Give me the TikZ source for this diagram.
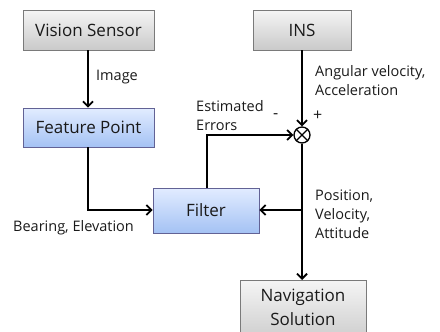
\documentclass[tikz,border=0pt]{standalone}
\usepackage{fontspec}
\setmainfont{Open Sans}
\usetikzlibrary{arrows.meta,positioning}
\definecolor{txt}{HTML}{1A1A1A}
\definecolor{bordergray}{HTML}{7A7A7A}
\tikzset{
  graybox/.style={draw=bordergray, line width=0.9pt, top color=gray!8, bottom color=gray!42, inner sep=0pt, text=txt, font=\fontsize{17}{24}\selectfont, align=center},
  bluebox/.style={draw=bordergray!80!blue, line width=0.9pt, top color={rgb,255:red,226;green,236;blue,255}, bottom color={rgb,255:red,164;green,194;blue,244}, inner sep=0pt, text=txt, font=\fontsize{17}{24}\selectfont, align=center},
  lbl/.style={text=txt, font=\fontsize{14.5}{19}\selectfont, align=left, inner sep=0pt, anchor=west},
  conn/.style={line width=2pt, -{Straight Barb[length=5pt,width=10pt,line width=1.8pt]}},
  plain/.style={line width=2pt},
  sumnode/.style={circle, draw, line width=1.3pt, minimum size=16pt, inner sep=0pt}
}
\begin{document}
\begin{tikzpicture}[x=1pt,y=-1pt]
\useasboundingbox (0,0) rectangle (440,332);
\clip (0,0) rectangle (440,332);
\node[graybox, minimum width=131pt, minimum height=40pt] (vision) at (88.5,30) {Vision Sensor};
\node[bluebox, minimum width=131pt, minimum height=39pt] (feature) at (88.5,127.5) {Feature Point};
\node[graybox, minimum width=98pt, minimum height=40pt] (ins) at (302,30) {INS};
\node[bluebox, minimum width=106pt, minimum height=45pt] (filter) at (206,210.5) {Filter};
\node[graybox, minimum width=126pt, minimum height=64pt, anchor=north] (nav) at (303,280) {};
\node[text=txt, font=\fontsize{17}{24}\selectfont, align=center, inner sep=0pt] (navtxt) at (303,307) {Navigation\\Solution};
\node[sumnode] (sum) at (302,135) {};
\draw[line width=1.3pt] (sum.north west) -- (sum.south east) (sum.north east) -- (sum.south west);
\coordinate (j1) at (88,210);
\coordinate (j2) at (302,210);
\coordinate (j3) at (207,135);
\draw[conn] (vision.south -| 88,0) -- (feature.north -| 88,0);
\draw[conn] (feature.south -| 88,0) -- (j1) -- (filter.west |- j1);
\draw[conn] (ins.south) -- (sum.north);
\draw[plain] (sum.south) -- (j2);
\draw[conn] (j2) -- (nav.north -| j2);
\draw[conn] (j2) -- (filter.east |- j2);
\draw[conn] (filter.north -| j3) -- (j3) -- (sum.west);
\node[lbl] (limage) at (96,77) {Image};
\node[lbl] (lang) at (315,81) {Angular velocity,\\Acceleration};
\node[lbl] (lest) at (196,116) {Estimated\\Errors};
\node[lbl, font=\fontsize{16}{19}\selectfont] (lminus) at (273,116) {-};
\node[lbl, font=\fontsize{16}{19}\selectfont] (lplus) at (313,116) {+};
\node[lbl] (lbear) at (13,228) {Bearing, Elevation};
\node[lbl] (lpos) at (315,214) {Position,\\Velocity,\\Attitude};
\end{tikzpicture}
\end{document}
